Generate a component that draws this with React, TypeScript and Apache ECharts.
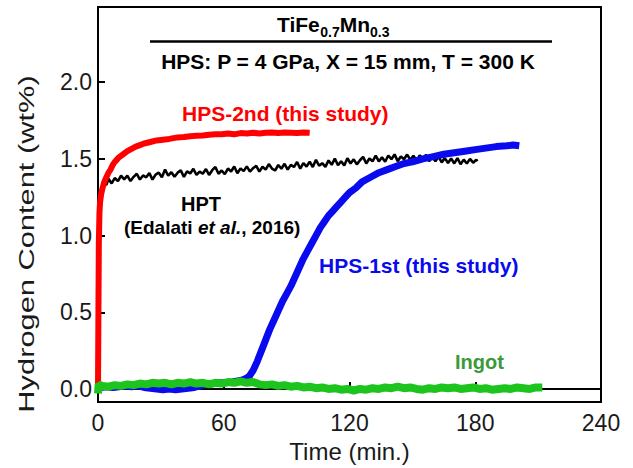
import React, { useEffect, useRef } from "react";
import * as echarts from "echarts";

const X_TICKS = [0, 60, 120, 180, 240];
const Y_TICKS = [0, 0.5, 1.0, 1.5, 2.0];

const RED: number[][] = [[0,0],[0.2,0.5],[0.4,0.95],[0.7,1.15],[1,1.22],[1.5,1.27],[2,1.3],[3,1.35],[4,1.38],[5,1.41],[6,1.43],[7,1.46],[8,1.48],[9,1.495],[10,1.51],[12,1.53],[14,1.55],[16,1.565],[18,1.58],[20,1.59],[22,1.6],[25,1.61],[28,1.62],[31,1.625],[34,1.63],[38,1.64],[41,1.642],[44,1.648],[47,1.65],[50,1.652],[53,1.657],[56,1.66],[59,1.66],[62,1.665],[65,1.66],[68,1.668],[71,1.665],[74,1.67],[77,1.665],[80,1.67],[83,1.672],[86,1.668],[89,1.672],[92,1.67],[95,1.668],[98,1.672],[101,1.67]];

const BLACK: number[][] = [[1,1.28],[2,1.31],[3,1.34],[4,1.33],[5,1.37],[6.5,1.34],[8,1.375],[9.5,1.355],[11,1.39],[12.5,1.367],[14,1.39],[15.5,1.355],[17,1.383],[18.5,1.403],[20,1.365],[21.5,1.392],[23,1.38],[24.5,1.407],[26,1.365],[27.5,1.397],[29,1.41],[30.5,1.38],[32,1.43],[33.5,1.39],[35,1.413],[36.5,1.383],[38,1.41],[39.5,1.425],[41,1.382],[42.5,1.418],[44,1.405],[45.5,1.435],[47,1.395],[48.5,1.417],[50,1.403],[51.5,1.434],[53,1.395],[54.5,1.426],[56,1.447],[57.5,1.403],[59,1.424],[60.5,1.40],[62,1.437],[63.5,1.418],[65,1.45],[66.5,1.406],[68,1.438],[69.5,1.42],[71,1.451],[72.5,1.417],[74,1.439],[75.5,1.455],[77,1.417],[78.5,1.448],[80,1.43],[81.5,1.466],[83,1.437],[84.5,1.424],[86,1.46],[87.5,1.436],[89,1.468],[90.5,1.43],[92,1.461],[93.5,1.447],[95,1.48],[96.5,1.436],[98,1.473],[99.5,1.45],[101,1.481],[102.5,1.447],[104,1.494],[105.5,1.455],[107,1.472],[108.5,1.448],[110,1.49],[111.5,1.461],[113,1.502],[114.5,1.458],[116,1.485],[117.5,1.457],[119,1.504],[120.5,1.47],[122,1.497],[123.5,1.464],[125,1.491],[126.5,1.513],[128,1.47],[129.5,1.502],[131,1.484],[132.5,1.521],[134,1.483],[135.5,1.51],[137,1.481],[138.5,1.522],[140,1.498],[141.5,1.529],[143,1.485],[144.5,1.516],[146,1.497],[147.5,1.528],[149,1.494],[150.5,1.52],[152,1.489],[153.5,1.523],[155,1.502],[156.5,1.526],[158,1.485],[159.5,1.513],[161,1.485],[162.5,1.514],[164,1.477],[165.5,1.505],[167,1.473],[168.5,1.502],[170,1.47],[171.5,1.505],[173,1.465],[174.5,1.495],[176,1.47],[177.5,1.50],[179,1.475],[180.5,1.495],[181,1.485]];

const BLUE: number[][] = [[0,0],[1,0.01],[4,0.015],[7,0.01],[10,0.015],[13,0.02],[16,0.015],[19,0.02],[22,0.01],[25,0.005],[28,0.0],[31,-0.005],[34,0.0],[37,-0.005],[40,0.0],[43,0.005],[46,0.01],[49,0.02],[52,0.03],[55,0.035],[58,0.04],[61,0.04],[64,0.045],[66,0.05],[68,0.055],[70,0.065],[72,0.08],[74,0.12],[76,0.18],[78,0.25],[80,0.32],[82,0.39],[84,0.45],[86,0.51],[88,0.57],[90,0.62],[92,0.67],[94,0.73],[96,0.79],[98,0.85],[100,0.9],[102,0.95],[104,1.0],[106,1.05],[108,1.09],[110,1.13],[112,1.16],[114,1.19],[116,1.22],[118,1.25],[120,1.28],[123,1.31],[126,1.35],[130,1.38],[134,1.41],[138,1.43],[142,1.45],[146,1.47],[150,1.48],[155,1.5],[160,1.515],[165,1.53],[170,1.54],[175,1.55],[180,1.56],[185,1.57],[190,1.58],[195,1.585],[198,1.59],[201,1.585]];

const GREEN: number[][] = [[0,-0.03],[0.3,0.03],[2,0.02],[5,0.015],[8,0.025],[11,0.02],[14,0.03],[17,0.025],[20,0.035],[23,0.03],[26,0.04],[29,0.035],[32,0.04],[35,0.03],[38,0.04],[41,0.035],[44,0.045],[47,0.035],[50,0.04],[53,0.03],[56,0.04],[59,0.035],[62,0.045],[65,0.04],[68,0.05],[71,0.04],[74,0.045],[77,0.03],[80,0.025],[83,0.03],[86,0.02],[89,0.025],[92,0.015],[95,0.02],[98,0.01],[101,0.015],[104,0.005],[107,0.01],[110,0.0],[113,0.005],[116,-0.005],[119,0.0],[122,-0.01],[125,0.0],[128,-0.005],[131,0.005],[134,0.0],[137,0.01],[140,0.005],[143,0.015],[146,0.005],[149,0.01],[152,0.0],[155,-0.005],[158,0.005],[161,0.0],[164,0.01],[167,0.005],[170,0.01],[173,0.0],[176,0.005],[179,0.01],[182,0.0],[185,0.005],[188,-0.005],[191,0.0],[194,0.005],[197,0.0],[200,0.01],[203,0.005],[206,0.0],[209,0.01],[212,0.01]];

const FONT = "'Liberation Sans', Arial, sans-serif";

export default function App() {
  const ref = useRef<HTMLDivElement>(null);
  useEffect(() => {
    if (!ref.current) return;
    const chart = echarts.init(ref.current, null, { renderer: "svg" });
    const bold = (text: string, x: number, y: number, size: number, color: string, align = "left", extra: any = {}) => ({
      type: "text",
      x, y,
      style: { text, fontFamily: FONT, fontWeight: "bold", fontSize: size, fill: color, align, verticalAlign: "middle", ...extra },
      z: 100,
    });
    chart.setOption({
      animation: false,
      backgroundColor: "#fff",
      grid: { left: 98, right: 32, top: 7, bottom: 65, show: true, borderColor: "#000", borderWidth: 2, backgroundColor: "transparent" },
      xAxis: {
        type: "value", min: X_TICKS[0], max: X_TICKS[X_TICKS.length - 1], interval: 60,
        axisLine: { show: true, lineStyle: { color: "#000", width: 2 } },
        axisTick: { inside: true, length: 7, lineStyle: { color: "#000", width: 2 } },
        axisLabel: { fontSize: 23, color: "#1a1a1a", fontFamily: FONT, margin: 9 },
        splitLine: { show: false },
        name: "Time (min.)", nameLocation: "middle", nameGap: 37,
        nameTextStyle: { fontSize: 24, color: "#1a1a1a", fontFamily: FONT },
      },
      yAxis: {
        type: "value", min: -0.085, max: 2.49,
        axisLine: { show: true, lineStyle: { color: "#000", width: 2 } },
        axisTick: { inside: true, length: 7, customValues: Y_TICKS, lineStyle: { color: "#000", width: 2 } },
        axisLabel: { fontSize: 23, color: "#1a1a1a", fontFamily: FONT, margin: 6, customValues: Y_TICKS, formatter: (v: number) => v.toFixed(1) },
        splitLine: { show: false },
      },
      series: [
        { type: "line", data: BLACK, showSymbol: false, lineStyle: { color: "#000", width: 2.6 }, z: 2 },
        { type: "line", data: RED, showSymbol: false, lineStyle: { color: "#ff0000", width: 6 }, z: 3 },
        { type: "line", data: BLUE, showSymbol: false, lineStyle: { color: "#0a0aee", width: 7 }, z: 4 },
        { type: "line", data: GREEN, showSymbol: false, lineStyle: { color: "#1ec41e", width: 8 }, z: 5 },
      ],
      graphic: [
        {
          type: "text", x: 26, y: 244, rotation: Math.PI / 2, scaleX: 1.37, scaleY: 1,
          style: { text: "Hydrogen Content (wt%)", fontFamily: FONT, fontSize: 22.5, fill: "#1a1a1a", align: "center", verticalAlign: "middle" },
        },
        bold("TiFe", 277, 24, 21, "#000"),
        bold("0.7", 320.2, 32, 14, "#000"),
        bold("Mn", 339.7, 24, 21, "#000"),
        bold("0.3", 370, 32, 14, "#000"),
        { type: "line", shape: { x1: 150, y1: 41.5, x2: 552, y2: 41.5 }, style: { stroke: "#000", lineWidth: 2.5 } },
        bold("HPS: P = 4 GPa, X = 15 mm, T = 300 K", 348, 61, 21, "#000", "center"),
        bold("HPS-2nd (this study)", 182, 113, 21, "#ff0000"),
        bold("HPT", 181, 204, 20, "#000"),
        {
          type: "text", x: 124, y: 227, z: 100,
          style: {
            text: "{b|(Edalati }{i|et al.}{b|, 2016)}",
            rich: {
              b: { fontFamily: FONT, fontWeight: "bold", fontSize: 19, fill: "#000" },
              i: { fontFamily: FONT, fontWeight: "bold", fontStyle: "italic", fontSize: 19, fill: "#000" },
            },
            verticalAlign: "middle",
          },
        },
        bold("HPS-1st (this study)", 319, 265, 21, "#0a0aee"),
        bold("Ingot", 455, 362, 20, "#3a9a3a"),
      ],
    });
    return () => chart.dispose();
  }, []);
  return <div ref={ref} style={{ position: "fixed", left: 0, top: 0, width: 633, height: 468 }} />;
}
